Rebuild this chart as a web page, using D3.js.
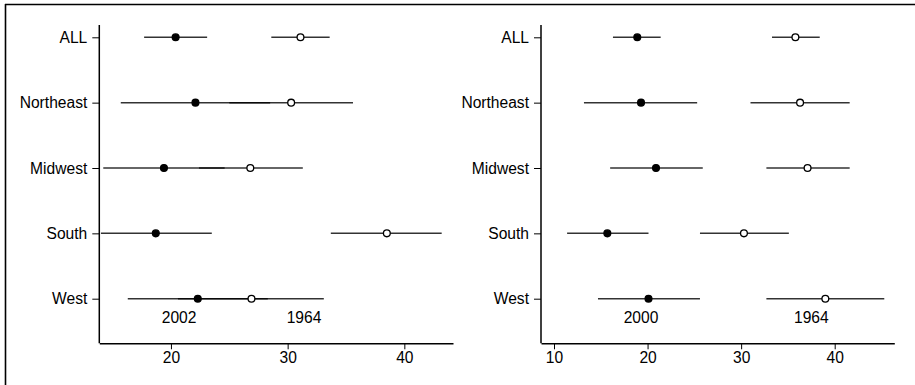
<!DOCTYPE html>
<html>
<head>
<meta charset="utf-8">
<script src="https://cdn.jsdelivr.net/npm/d3@7"></script>
<style>
  body { margin: 0; background: #fff; }
  svg text { font-family: "Liberation Sans", Arial, sans-serif; }
</style>
</head>
<body>
<div id="chartArea"></div>
<script>
// Data
const regions = ["ALL", "Northeast", "Midwest", "South", "West"];

// left panel: 2002 vs 1964
const left2002 = [20.4, 22.1, 19.4, 18.7, 22.3];
const left2002Lo = [17.7, 15.7, 14.2, 14.0, 16.3];
const left2002Hi = [23.1, 28.5, 24.6, 23.5, 28.3];
const left1964 = [31.1, 30.3, 26.8, 38.5, 26.9];
const left1964Lo = [28.6, 25.0, 22.4, 33.7, 20.6];
const left1964Hi = [33.6, 35.6, 31.3, 43.2, 33.1];
const leftYears = ["2002", "1964"];
const leftYearPos = [20.7, 31.4];
const leftTicks = [20, 30, 40];

// right panel: 2000 vs 1964
const right2000 = [18.9, 19.3, 20.9, 15.7, 20.1];
const right2000Lo = [16.3, 13.2, 16.0, 11.4, 14.7];
const right2000Hi = [21.4, 25.3, 25.9, 20.1, 25.6];
const right1964 = [35.8, 36.3, 37.1, 30.3, 39.0];
const right1964Lo = [33.3, 31.0, 32.7, 25.6, 32.7];
const right1964Hi = [38.4, 41.6, 41.6, 35.1, 45.3];
const rightYears = ["2000", "1964"];
const rightYearPos = [19.3, 37.5];
const rightTicks = [10, 20, 30, 40];

const width = 915, height = 385;
const fontSize = "15.6px";

const svg = d3.select("#chartArea")
    .append("svg")
    .attr("width", width)
    .attr("height", height);

// frame (top + left only)
svg.append("line").attr("x1", 5).attr("x2", width).attr("y1", 4.5).attr("y2", 4.5)
    .attr("stroke", "#000").attr("stroke-width", 1.6);
svg.append("line").attr("x1", 5.5).attr("x2", 5.5).attr("y1", 4).attr("y2", height)
    .attr("stroke", "#000").attr("stroke-width", 1.6);

const y = d3.scalePoint()
    .domain(regions)
    .range([37.3, 298.7]);

const panel = (p) => {
    const x = d3.scaleLinear().domain(p.domain).range([p.x0, p.x1]);
    const g = svg.append("g");

    // axes
    g.append("g")
        .attr("transform", `translate(0,${p.yAxis})`)
        .call(d3.axisBottom(x).tickValues(p.ticks).tickSize(6).tickPadding(3).tickSizeOuter(0))
        .call(a => a.select(".domain").attr("stroke-width", 1.5))
        .call(a => a.selectAll("text").style("font-size", fontSize).attr("fill", "#000"));

    g.append("line")
        .attr("x1", p.x0).attr("x2", p.x0)
        .attr("y1", 25).attr("y2", p.yAxis)
        .attr("stroke", "#000").attr("stroke-width", 1.5);

    g.append("g")
        .attr("transform", `translate(${p.x0},0)`)
        .call(d3.axisLeft(y).tickSize(7).tickPadding(5))
        .call(a => a.select(".domain").remove())
        .call(a => a.selectAll("text").style("font-size", fontSize).attr("fill", "#000"));

    // error bars
    const series = [
        { mid: p.a, lo: p.aLo, hi: p.aHi, fill: "#000" },
        { mid: p.b, lo: p.bLo, hi: p.bHi, fill: "#fff" }
    ];
    series.forEach(s => {
        g.append("g")
            .selectAll("line")
            .data(regions)
            .join("line")
            .attr("x1", (d, i) => x(s.lo[i]))
            .attr("x2", (d, i) => x(s.hi[i]))
            .attr("y1", d => y(d))
            .attr("y2", d => y(d))
            .attr("stroke", "#000")
            .attr("stroke-opacity", 0.8)
            .attr("stroke-width", 1.5);
    });
    series.forEach(s => {
        g.append("g")
            .selectAll("circle")
            .data(regions)
            .join("circle")
            .attr("cx", (d, i) => x(s.mid[i]))
            .attr("cy", d => y(d))
            .attr("r", 3.4)
            .attr("fill", s.fill)
            .attr("stroke", "#000")
            .attr("stroke-width", 1.3);
    });

    // year labels
    g.append("g")
        .selectAll("text")
        .data(p.years)
        .join("text")
        .attr("x", (d, i) => x(p.yearPos[i]))
        .attr("y", 323)
        .attr("text-anchor", "middle")
        .style("font-size", fontSize)
        .text(d => d);
};

panel({
    x0: 99.3, x1: 453, yAxis: 343.3,
    domain: [13.86, 44.17], ticks: leftTicks,
    a: left2002, aLo: left2002Lo, aHi: left2002Hi,
    b: left1964, bLo: left1964Lo, bHi: left1964Hi,
    years: leftYears, yearPos: leftYearPos
});

panel({
    x0: 541, x1: 894.3, yAxis: 343.3,
    domain: [8.61, 46.37], ticks: rightTicks,
    a: right2000, aLo: right2000Lo, aHi: right2000Hi,
    b: right1964, bLo: right1964Lo, bHi: right1964Hi,
    years: rightYears, yearPos: rightYearPos
});
</script>
</body>
</html>
